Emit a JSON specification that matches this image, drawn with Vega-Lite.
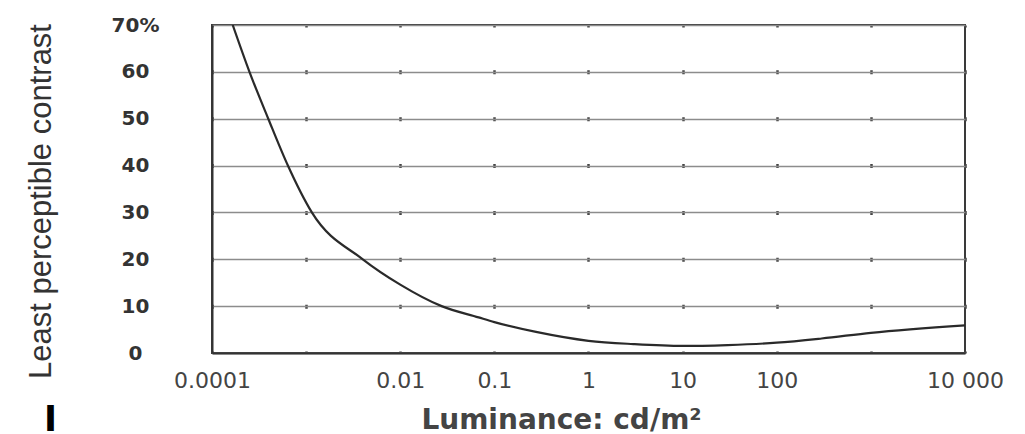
{
  "$schema": "https://vega.github.io/schema/vega-lite/v6.json",
  "width": 753,
  "height": 328,
  "autosize": {"type": "none"},
  "padding": {"left": 212, "top": 25, "right": 60, "bottom": 81},
  "background": "white",
  "config": {
    "view": {"stroke": "#3a3a3a", "strokeWidth": 2},
    "font": "DejaVu Sans"
  },
  "title": {
    "text": "I",
    "orient": "bottom",
    "anchor": "start",
    "frame": "group",
    "fontSize": 35,
    "fontWeight": "bold",
    "font": "DejaVu Sans",
    "color": "#000000",
    "baseline": "alphabetic",
    "offset": 0,
    "dx": -168,
    "dy": -3
  },
  "data": {
    "values": [
      {"luminance": 0.000166, "contrast": 70},
      {"luminance": 0.00025, "contrast": 60},
      {"luminance": 0.000396, "contrast": 50},
      {"luminance": 0.00064, "contrast": 40},
      {"luminance": 0.00115, "contrast": 30},
      {"luminance": 0.004, "contrast": 20},
      {"luminance": 0.01, "contrast": 14.6},
      {"luminance": 0.0275, "contrast": 10},
      {"luminance": 0.068, "contrast": 7.6},
      {"luminance": 0.1, "contrast": 6.6},
      {"luminance": 0.277, "contrast": 4.5},
      {"luminance": 1, "contrast": 2.6},
      {"luminance": 3, "contrast": 1.9},
      {"luminance": 10, "contrast": 1.5},
      {"luminance": 30, "contrast": 1.7},
      {"luminance": 100, "contrast": 2.2},
      {"luminance": 300, "contrast": 3.1},
      {"luminance": 1000, "contrast": 4.3},
      {"luminance": 10000, "contrast": 5.9}
    ]
  },
  "mark": {"type": "line", "color": "#2a2a2a", "strokeWidth": 2.2, "interpolate": "monotone", "clip": true},
  "encoding": {
    "x": {
      "field": "luminance",
      "type": "quantitative",
      "scale": {"type": "log", "domain": [0.0001, 10000], "nice": false},
      "axis": {
        "values": [0.0001, 0.001, 0.01, 0.1, 1, 10, 100, 1000, 10000],
        "labelExpr": "datum.value == 0.0001 ? '0.0001' : datum.value == 0.01 ? '0.01' : datum.value == 0.1 ? '0.1' : datum.value == 1 ? '1' : datum.value == 10 ? '10' : datum.value == 100 ? '100' : datum.value == 10000 ? '10 000' : ''",
        "labelFontSize": 22,
        "labelColor": "#444444",
        "labelPadding": 17,
        "labelBaseline": "top",
        "labelDx": -6,
        "labelFlush": false,
        "labelOverlap": false,
        "ticks": false,
        "domainColor": "#333333",
        "domainWidth": 2,
        "grid": true,
        "gridColor": "#444444",
        "gridWidth": 2.5,
        "gridDash": [4, 42.857],
        "gridDashOffset": 2,
        "title": "Luminance: cd/m²",
        "titleFontSize": 28,
        "titleFontWeight": "bold",
        "titleColor": "#444444",
        "titleX": 349,
        "titleY": 75,
        "titleAlign": "center",
        "titleBaseline": "alphabetic"
      }
    },
    "y": {
      "field": "contrast",
      "type": "quantitative",
      "scale": {"domain": [0, 70], "nice": false},
      "axis": {
        "values": [0, 10, 20, 30, 40, 50, 60, 70],
        "labelExpr": "datum.value == 70 ? '70%' : datum.label",
        "labelFontSize": 20,
        "labelFontWeight": "bold",
        "labelColor": "#333333",
        "labelAlign": "center",
        "labelBaseline": "middle",
        "labelPadding": 77,
        "ticks": false,
        "domainColor": "#333333",
        "domainWidth": 2,
        "grid": true,
        "gridColor": "#8c8c8c",
        "gridWidth": 1.6,
        "title": "Least perceptible contrast",
        "titleFont": "Liberation Sans",
        "titleFontSize": 31,
        "titleFontWeight": "normal",
        "titleColor": "#333333",
        "titleAngle": -90,
        "titleX": -162,
        "titleY": 176,
        "titleAlign": "center",
        "titleBaseline": "alphabetic"
      }
    }
  }
}
